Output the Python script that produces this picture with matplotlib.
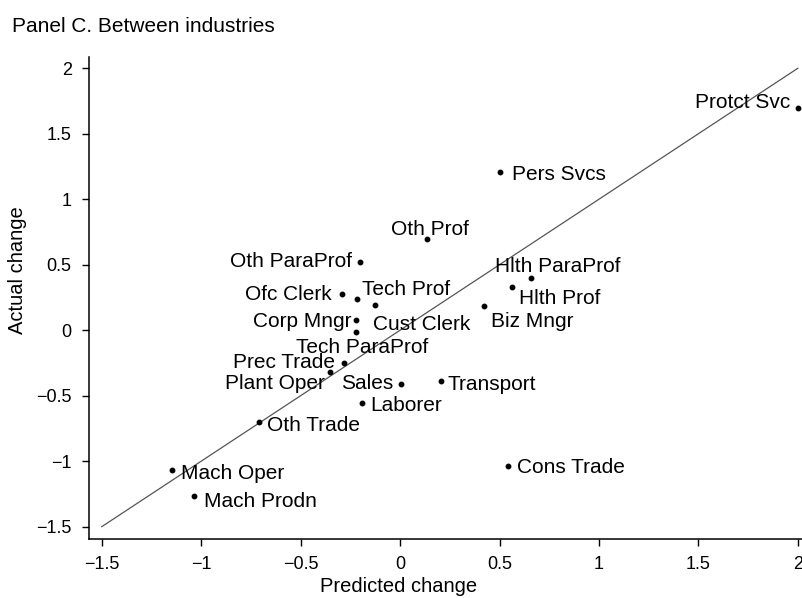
import matplotlib
matplotlib.use("Agg")
from matplotlib import pyplot as plt

plt.rcParams["font.family"] = ["Liberation Sans", "DejaVu Sans"]

# occupations: predicted vs actual change
names = [
    "Protct Svc", "Pers Svcs", "Oth Prof", "Oth ParaProf", "Ofc Clerk",
    "Tech Prof", "Cust Clerk", "Corp Mngr", "Tech ParaProf", "Prec Trade",
    "Plant Oper", "Sales", "Transport", "Laborer", "Oth Trade",
    "Mach Oper", "Mach Prodn", "Cons Trade", "Hlth ParaProf", "Hlth Prof",
    "Biz Mngr",
]
predicted = [
    2.003, 0.503, 0.134, -0.201, -0.293,
    -0.218, -0.126, -0.223, -0.223, -0.280,
    -0.352, 0.005, 0.205, -0.193, -0.709,
    -1.145, -1.034, 0.545, 0.659, 0.562,
    0.422,
]
actual = [
    1.695, 1.211, 0.697, 0.519, 0.277,
    0.239, 0.193, 0.079, -0.011, -0.247,
    -0.316, -0.410, -0.387, -0.557, -0.702,
    -1.069, -1.265, -1.036, 0.402, 0.328,
    0.185,
]
ticks = [-1.5, -1, -0.5, 0, 0.5, 1, 1.5, 2]
diag = [-1.5, 2]

# label placement: (ha, dx px, dy px of baseline)
label_pos = {
    "Protct Svc": ("right", -8, 0),
    "Pers Svcs": ("left", 12, -8),
    "Oth Prof": ("center", 3, 4),
    "Oth ParaProf": ("right", -8, -5),
    "Ofc Clerk": ("right", -10, -6),
    "Tech Prof": ("left", 5, 4),
    "Cust Clerk": ("left", -2, -25),
    "Corp Mngr": ("right", -4, -7),
    "Tech ParaProf": ("center", 6, -21),
    "Prec Trade": ("right", -9, -5),
    "Plant Oper": ("right", -5, -17),
    "Sales": ("right", -8, -5),
    "Transport": ("left", 7, -9),
    "Laborer": ("left", 9, -8),
    "Oth Trade": ("left", 8, -9),
    "Mach Oper": ("left", 9, -9),
    "Mach Prodn": ("left", 10, -11),
    "Cons Trade": ("left", 9, -7),
    "Hlth ParaProf": ("left", -36, 6),
    "Hlth Prof": ("left", 7, -17),
    "Biz Mngr": ("left", 7, -21),
}

fig = plt.figure(figsize=(8.03, 5.98), dpi=100)
ax = fig.add_axes([89 / 803, 59 / 598, 714 / 803, 482 / 598])

ax.plot(diag, diag, color="#555555", lw=0.9)
ax.plot(predicted, actual, "o", color="black", ms=3.2, ls="none")

for n, x, y in zip(names, predicted, actual):
    ha, dx, dy = label_pos[n]
    ax.annotate(n, (x, y), xytext=(dx, dy), textcoords="offset pixels",
                ha=ha, va="baseline", fontsize=15, color="black")

ax.set_xlim(-1.564, 2.026)
ax.set_ylim(-1.594, 2.086)
ax.set_xticks(ticks)
ax.set_yticks(ticks)
lbls = [f"{t:g}".replace("-", "\u2212") for t in ticks]
ax.set_xticklabels(lbls)
ax.set_yticklabels(lbls)
ax.tick_params(direction="out", length=5, width=1, labelsize=13, pad=7.5)

for s in ["top", "right"]:
    ax.spines[s].set_visible(False)
for s in ["left", "bottom"]:
    ax.spines[s].set_linewidth(1.1)

ax.set_xlabel("Predicted change", fontsize=14.5)
ax.xaxis.set_label_coords((399 - 89) / 714, -0.079)
ax.set_ylabel("Actual change", fontsize=14.5)
ax.yaxis.set_label_coords((27 - 89) / 714, 0.558)

fig.text(11.7 / 803, 1 - 32.3 / 598, "Panel C. Between industries",
         fontsize=15, va="baseline", ha="left")

fig.savefig("out.png", dpi=100)
